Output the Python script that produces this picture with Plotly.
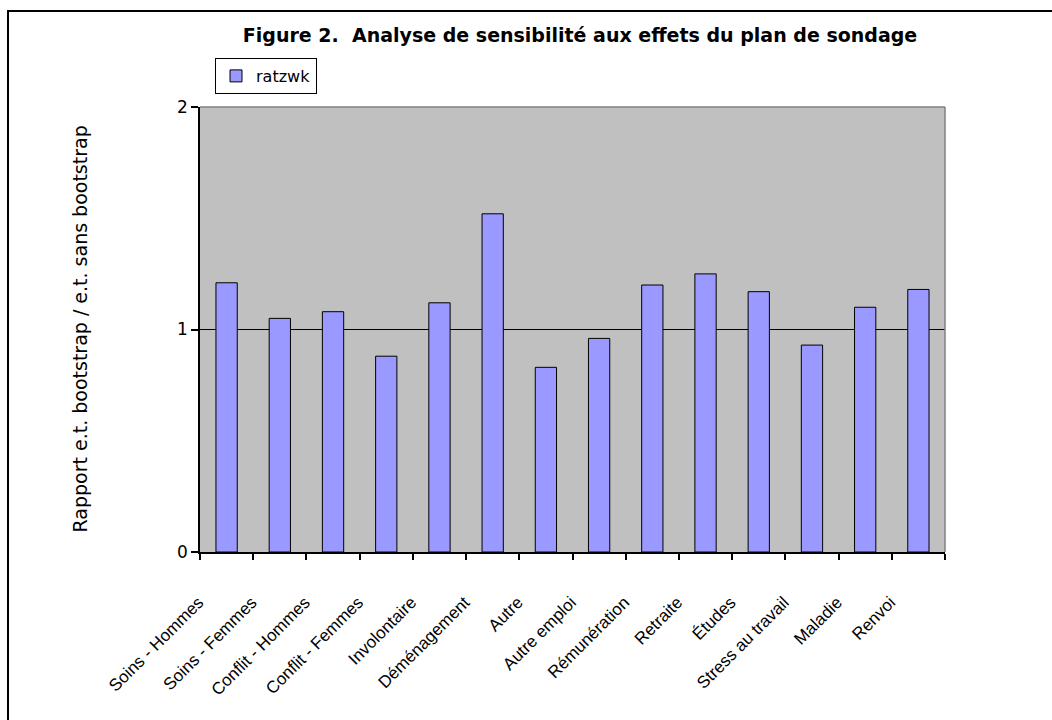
import plotly.graph_objects as go

categories = ["Soins - Hommes", "Soins - Femmes", "Conflit - Hommes", "Conflit - Femmes",
              "Involontaire", "Déménagement", "Autre", "Autre emploi", "Rémunération",
              "Retraite", "Études", "Stress au travail", "Maladie", "Renvoi"]
ratzwk = [1.21, 1.05, 1.08, 0.88, 1.12, 1.52, 0.83, 0.96, 1.20, 1.25, 1.17, 0.93, 1.10, 1.18]
y_ticks = [0, 1, 2]

W, H = 1052, 720
L, R, T, B = 200, 107, 107, 168
pw, ph = W - L - R, H - T - B

WIDE = "DejaVu Sans, Verdana, sans-serif"
ARIAL = "Liberation Sans, Arial, sans-serif"


def px_x(p):
    return (p - L) / pw


def px_y(p):
    return (H - B - p) / ph


fig = go.Figure()
fig.add_trace(go.Bar(
    x=categories, y=ratzwk, name="ratzwk", width=0.4,
    marker=dict(color="#9999FF", line=dict(color="black", width=1)),
    showlegend=True,
))

fig.update_layout(
    width=W, height=H,
    margin=dict(l=L, r=R, t=T, b=B),
    paper_bgcolor="white",
    plot_bgcolor="#C0C0C0",
    font=dict(family=WIDE, color="black", size=17),
    title=dict(text="<b>Figure 2.  Analyse de sensibilité aux effets du plan de sondage</b>",
               x=580 / W, xanchor="center", xref="container",
               y=1 - 35 / H, yanchor="middle", yref="container",
               font=dict(size=19, family=WIDE)),
    legend=dict(x=px_x(215), y=px_y(58), xanchor="left", yanchor="top",
                bordercolor="black", borderwidth=1, bgcolor="white",
                font=dict(size=16, family=WIDE), itemwidth=30,
                tracegroupgap=0),
    xaxis=dict(
        type="category", showgrid=False, showline=True, linecolor="black", linewidth=1.5,
        ticks="outside", ticklen=6, tickcolor="black", tickwidth=1.5, tickson="boundaries",
        tickangle=-45, ticklabelstandoff=32, ticklabelshift=-28,
        tickfont=dict(size=17, family=ARIAL),
    ),
    yaxis=dict(
        range=[0, 2], tickvals=y_ticks, ticktext=[str(v) for v in y_ticks],
        showgrid=True, gridcolor="black", gridwidth=1,
        showline=True, linecolor="black", linewidth=1.5,
        ticks="outside", ticklen=7, tickcolor="black", tickwidth=1.5,
        tickfont=dict(size=17, family=WIDE), zeroline=False,
    ),
)

fig.add_annotation(
    text="Rapport e.t. bootstrap / e.t. sans bootstrap",
    textangle=-90, xref="paper", yref="paper",
    x=px_x(79), y=0.5, xanchor="center", yanchor="middle",
    showarrow=False, font=dict(size=19, family=WIDE),
)

# plot-area top and right border (gray)
fig.add_shape(type="line", xref="x domain", yref="y domain", x0=0, x1=1, y0=1, y1=1,
              line=dict(color="#808080", width=1.5), layer="above")
fig.add_shape(type="line", xref="x domain", yref="y domain", x0=1, x1=1, y0=0, y1=1,
              line=dict(color="#808080", width=1.5), layer="above")

# outer chart border
fig.add_shape(type="rect", xref="paper", yref="paper",
              x0=px_x(8), x1=px_x(1070), y0=px_y(740), y1=px_y(11),
              line=dict(color="black", width=2), fillcolor="rgba(0,0,0,0)", layer="above")

fig.write_html("out.html")
